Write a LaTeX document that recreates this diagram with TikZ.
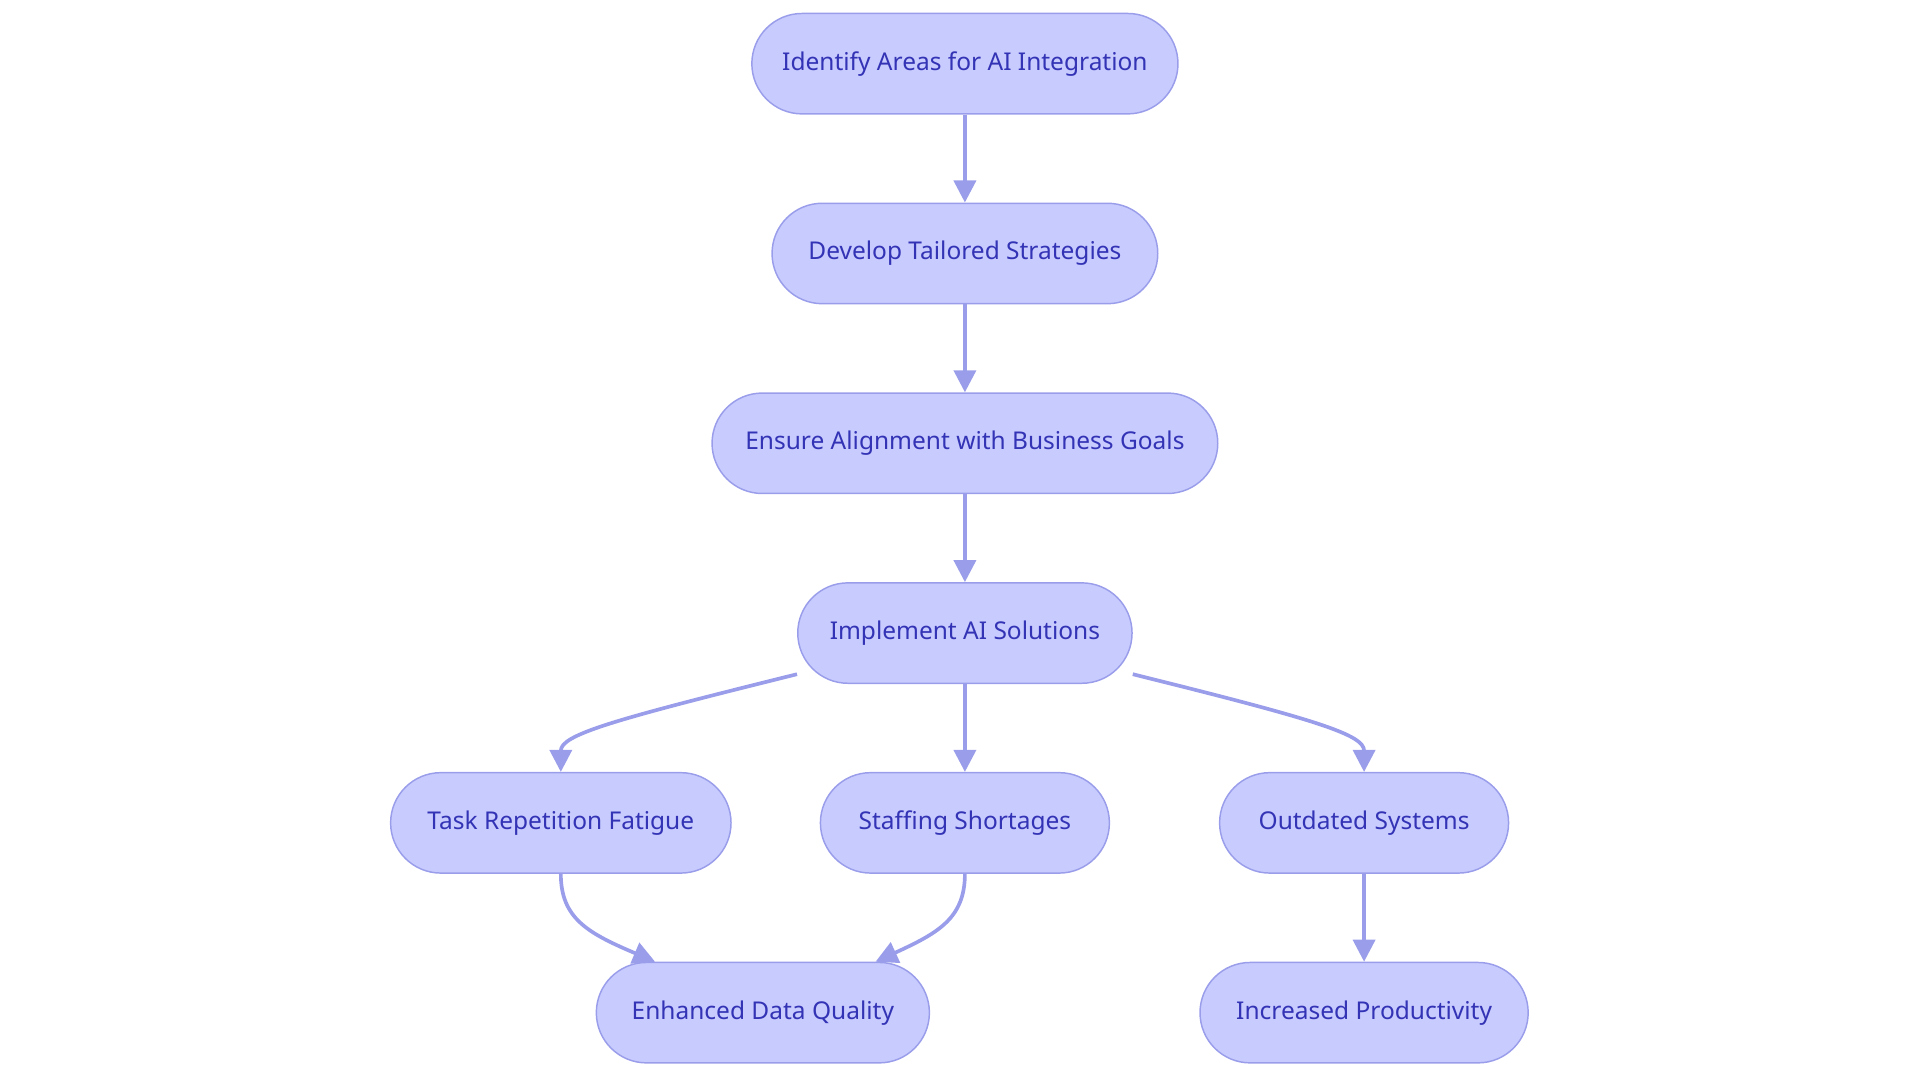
\documentclass[tikz,border=0pt]{standalone}
\usepackage{fontspec}
\setmainfont{Noto Sans}
\usetikzlibrary{arrows.meta}
\definecolor{nfill}{HTML}{C8CBFE}
\definecolor{nline}{HTML}{9A9EEA}
\definecolor{ntext}{HTML}{3333B5}
\begin{document}
\begin{tikzpicture}[x=0.5pt,y=-0.5pt,
  box/.style={draw=nline,fill=nfill,line width=0.6pt,rounded corners=20.5pt,minimum height=41pt,text=ntext,font=\fontsize{10}{12}\selectfont,inner sep=0pt},
  arr/.style={draw=nline,line width=1.5pt,-{Triangle[length=9pt,width=9pt]}}]
\useasboundingbox (0,0) rectangle (1568,884);
\node[box,minimum width=174pt] (n1) at (788,52) {Identify Areas for AI Integration};
\node[box,minimum width=157.5pt] (n2) at (788,207) {Develop Tailored Strategies};
\node[box,minimum width=206.5pt] (n3) at (788,362) {Ensure Alignment with Business Goals};
\node[box,minimum width=136.5pt] (n4) at (788,517) {Implement AI Solutions};
\node[box,minimum width=139pt] (n5) at (458,672) {Task Repetition Fatigue};
\node[box,minimum width=118pt] (n6) at (788,672) {Staffing Shortages};
\node[box,minimum width=118pt] (n7) at (1114,672) {Outdated Systems};
\node[box,minimum width=136pt] (n8) at (623,827) {Enhanced Data Quality};
\node[box,minimum width=134pt] (n9) at (1114,827) {Increased Productivity};
\draw[arr] (n1) -- (n2);
\draw[arr] (n2) -- (n3);
\draw[arr] (n3) -- (n4);
\draw[arr] (n4) -- (n6);
\draw[arr] (n7) -- (n9);
\draw[arr] ([yshift=4pt]n4.south west) .. controls (500,588) and (458,600) .. (n5.north);
\draw[arr] ([yshift=4pt]n4.south east) .. controls (1076,588) and (1114,600) .. (n7.north);
\draw[arr] (n5.south) .. controls (458,750) and (480,762) .. ([xshift=-44pt]n8.north);
\draw[arr] (n6.south) .. controls (788,750) and (766,762) .. ([xshift=46pt]n8.north);
\end{tikzpicture}
\end{document}
